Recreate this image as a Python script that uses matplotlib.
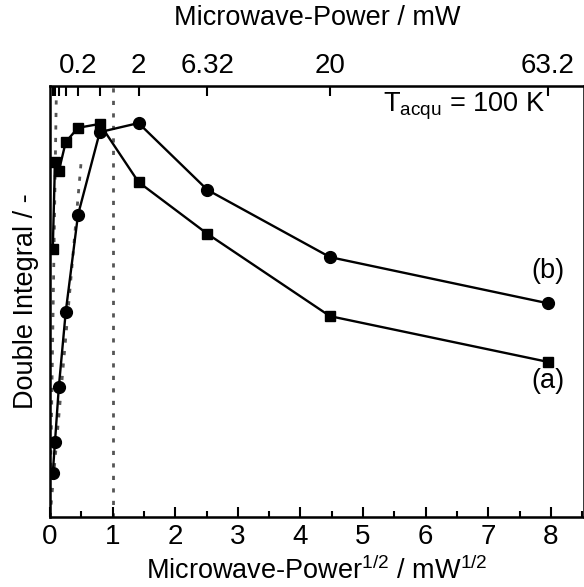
import numpy as np
import matplotlib.pyplot as plt
from matplotlib.ticker import MultipleLocator

plt.rcParams['font.family'] = ['Liberation Sans', 'DejaVu Sans']
plt.rcParams['mathtext.fontset'] = 'custom'
plt.rcParams['mathtext.rm'] = 'Liberation Sans'

# Mikrowellenleistung in mW (Messpunkte)
power_mw = [0.002, 0.00632, 0.02, 0.0632, 0.2, 0.632, 2.0, 6.32, 20.0, 63.2]
sqrt_power = np.sqrt(power_mw)

# Doppelintegral, willkuerliche Einheiten
series_a = [0.622, 0.824, 0.803, 0.870, 0.903, 0.912, 0.777, 0.657, 0.466, 0.360]
series_b = [0.102, 0.174, 0.302, 0.476, 0.701, 0.893, 0.914, 0.759, 0.603, 0.496]

# lineare Bereiche (gepunktet)
fit_a_x = [0.0, 0.10]
fit_a_y = [0.0, 0.97]
fit_b_x = [0.0, 0.495]
fit_b_y = [0.0, 0.82]

top_labels = ['', '', '', '', '0.2', '', '2', '6.32', '20', '63.2']

fig = plt.figure(figsize=(5.84, 5.87), dpi=100)
ax = fig.add_axes([50 / 584, 70 / 587, 534 / 584, 431 / 587])

dots = (0, (1.5, 3.0))
ax.plot(fit_a_x, fit_a_y, color='#555555', lw=2.0, ls=dots, zorder=1)
ax.plot(fit_b_x, fit_b_y, color='#555555', lw=2.0, ls=dots, zorder=1)
ax.axvline(1.0, color='#555555', lw=2.0, ls=dots, zorder=1)

ax.plot(sqrt_power, series_a, '-s', color='black', lw=1.7, markersize=7.5, zorder=3)
ax.plot(sqrt_power, series_b, '-o', color='black', lw=1.7, markersize=8.5, zorder=3)

ax.set_xlim(0, 534 / 62.6)
ax.set_ylim(0, 1)
ax.xaxis.set_major_locator(MultipleLocator(1))
ax.xaxis.set_minor_locator(MultipleLocator(0.5))
ax.tick_params(axis='x', which='major', direction='in', length=7, width=1.5,
               labelsize=20, pad=5)
ax.tick_params(axis='x', which='minor', direction='in', length=4, width=1.5)
ax.set_yticks([])
for s in ax.spines.values():
    s.set_linewidth(1.8)

ax.set_xlabel('Microwave-Power$^{1/2}$ / mW$^{1/2}$', fontsize=19.5, labelpad=5)
ax.set_ylabel('Double Integral / -', fontsize=19.5, labelpad=8)

ax2 = ax.twiny()
ax2.set_xlim(ax.get_xlim())
ax2.set_xticks(sqrt_power)
ax2.set_xticklabels(top_labels)
ax2.tick_params(axis='x', direction='in', length=7, width=1.5, labelsize=20, pad=5)
ax2.set_xlabel('Microwave-Power / mW', fontsize=19.5, labelpad=20)

ax.text(7.95, 0.57, '(b)', fontsize=19.5, ha='center', va='center')
ax.text(7.95, 0.315, '(a)', fontsize=19.5, ha='center', va='center')
ax.text(6.62, 0.94, r'T$_{\mathrm{acqu}}$ = 100 K', fontsize=19.5, ha='center', va='baseline')

fig.savefig('out.png', dpi=100)
